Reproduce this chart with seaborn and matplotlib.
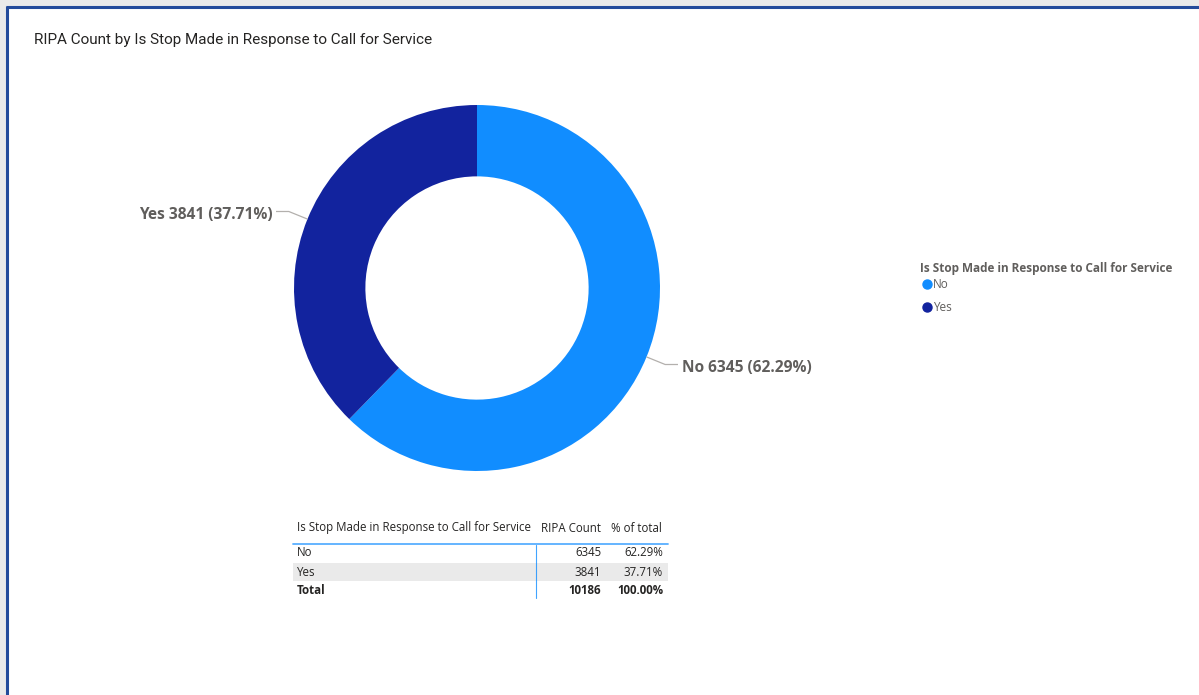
import matplotlib
matplotlib.use("Agg")
import numpy as np
import seaborn as sns
import matplotlib.pyplot as plt
from matplotlib.lines import Line2D
from matplotlib.patches import Rectangle

# -----------------------------
# Data
# -----------------------------
categories = ["No", "Yes"]
ripa_counts = [6345, 3841]
title_text = "RIPA Count by Is Stop Made in Response to Call for Service"
field_name = "Is Stop Made in Response to Call for Service"
table_headers = [field_name, "RIPA Count", "% of total"]

total = sum(ripa_counts)
shares = [c / total * 100 for c in ripa_counts]

sns.set_theme(style="white")
plt.rcParams["font.family"] = ["Open Sans", "DejaVu Sans"]
colors = ["#118DFF", "#12239E"]
label_gray = "#605E5C"
dark = "#252423"

W, H = 1199, 695
fig = plt.figure(figsize=(W / 100, H / 100), dpi=100, facecolor="#EAEAEA")

# overlay axes in pixel coordinates for the card, table and frame
bg = fig.add_axes([0, 0, 1, 1])
bg.set_xlim(0, W)
bg.set_ylim(H, 0)
bg.axis("off")
bg.add_patch(Rectangle((6, 6), W, H, facecolor="white", edgecolor="none"))
bg.plot([7, 7], [6, H], color="#244B9B", lw=2.2, solid_capstyle="butt")
bg.plot([6, W], [7, 7], color="#244B9B", lw=2.2, solid_capstyle="butt")

bg.text(34, 40, title_text, fontsize=10.95, color=dark,
        family=["Roboto", "DejaVu Sans"], va="center", ha="left")

# -----------------------------
# Donut
# -----------------------------
cx, cy, r = 477, 288, 183
ax = fig.add_axes([(cx - r) / W, (H - cy - r) / H, 2 * r / W, 2 * r / H])
wedges, _ = ax.pie(ripa_counts, colors=colors, startangle=90, counterclock=False,
                   radius=1.0, wedgeprops=dict(width=0.39, edgecolor="none"))
ax.set_xlim(-1, 1)
ax.set_ylim(-1, 1)
ax.set_aspect("equal")
ax.axis("off")

for w, cat, cnt, pct in zip(wedges, categories, ripa_counts, shares):
    ang = np.deg2rad((w.theta1 + w.theta2) / 2)
    x0, y0 = np.cos(ang), np.sin(ang)
    sign = 1 if x0 > 0 else -1
    x1, y1 = 1.11 * x0, 1.11 * y0
    x2 = x1 + sign * 0.07
    ax.plot([x0, x1, x2], [y0, y1, y1], color="#B3B0AD", lw=0.9,
            clip_on=False, solid_capstyle="butt")
    ax.text(x2 + sign * 0.02, y1 - 0.018, f"{cat} {cnt} ({pct:.2f}%)", fontsize=11.2,
            fontweight="bold", color=label_gray, ha="left" if sign > 0 else "right",
            va="center", clip_on=False)

# -----------------------------
# Legend
# -----------------------------
handles = [Line2D([], [], marker="o", linestyle="", markersize=6.5,
                  markerfacecolor=c, markeredgecolor=c) for c in colors]
leg = fig.legend(handles, categories, title=field_name, loc="upper left",
                 bbox_to_anchor=(915 / W, 1 - 257 / H), frameon=False,
                 fontsize=8.5, title_fontproperties={"weight": "bold", "size": 8.5},
                 handletextpad=-0.1, labelspacing=0.85, alignment="left",
                 borderaxespad=0, handlelength=1.2, handleheight=0.5)
leg._legend_box.sep = 2
leg.get_title().set_color(label_gray)
for t in leg.get_texts():
    t.set_color(label_gray)

# -----------------------------
# Table
# -----------------------------
tbl_fs = 8.3
col_x = [297, 601, 663]
hy = 528
bg.text(col_x[0], hy, table_headers[0], fontsize=tbl_fs, color=dark, va="center")
bg.text(541, hy, table_headers[1], fontsize=tbl_fs, color=dark, va="center")
bg.text(611, hy, table_headers[2], fontsize=tbl_fs, color=dark, va="center")
bg.plot([293, 668], [544, 544], color="#118DFF", lw=1.3, alpha=0.7)
row_y = [553, 572]
for i, (cat, cnt, pct) in enumerate(zip(categories, ripa_counts, shares)):
    if i % 2 == 1:
        bg.add_patch(Rectangle((293, 563), 375, 18, facecolor="#EAEAEA",
                               edgecolor="none"))
    bg.text(col_x[0], row_y[i], cat, fontsize=tbl_fs, color=dark, va="center")
    bg.text(col_x[1], row_y[i], f"{cnt}", fontsize=tbl_fs, color=dark,
            va="center", ha="right")
    bg.text(col_x[2], row_y[i], f"{pct:.2f}%", fontsize=tbl_fs, color=dark,
            va="center", ha="right")
ty = 590
bg.text(col_x[0], ty, "Total", fontsize=tbl_fs, color=dark, va="center",
        fontweight="bold")
bg.text(col_x[1], ty, f"{total}", fontsize=tbl_fs, color=dark, va="center",
        ha="right", fontweight="bold")
bg.text(col_x[2], ty, f"{sum(shares):.2f}%", fontsize=tbl_fs, color=dark,
        va="center", ha="right", fontweight="bold")
bg.plot([536, 536], [545, 598], color="#118DFF", lw=0.8, alpha=0.8)

fig.savefig("out.png", dpi=100, facecolor=fig.get_facecolor())
